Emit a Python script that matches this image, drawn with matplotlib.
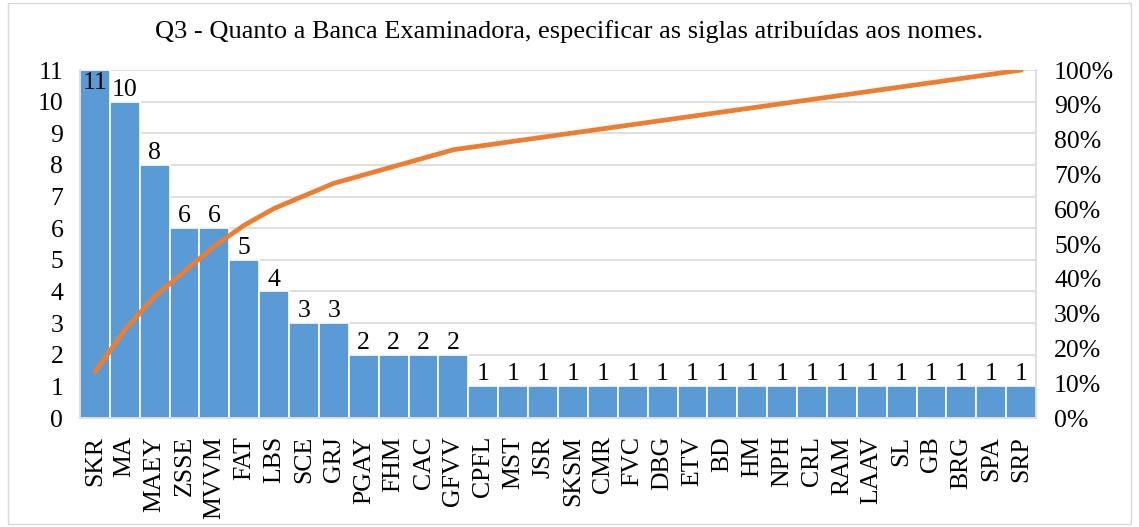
import matplotlib
matplotlib.use("Agg")
import matplotlib.pyplot as plt
import numpy as np

plt.rcParams['font.family'] = ['Liberation Serif', 'DejaVu Serif']

categories = ["SKR", "MA", "MAEY", "ZSSE", "MVVM", "FAT", "LBS", "SCE", "GRJ",
              "PGAY", "FHM", "CAC", "GFVV", "CPFL", "MST", "JSR", "SKSM", "CMR",
              "FVC", "DBG", "ETV", "BD", "HM", "NPH", "CRL", "RAM", "LAAV", "SL",
              "GB", "BRG", "SPA", "SRP"]
counts = [11, 10, 8, 6, 6, 5, 4, 3, 3, 2, 2, 2, 2,
          1, 1, 1, 1, 1, 1, 1, 1, 1, 1, 1, 1, 1, 1, 1, 1, 1, 1, 1]
title = "Q3 - Quanto a Banca Examinadora, especificar as siglas atribuídas aos nomes."

cum_pct = np.cumsum(counts) / np.sum(counts) * 100

fs = 18.5
fig = plt.figure(figsize=(11.39, 5.27), dpi=100)
ax = fig.add_axes([0.0702, 0.2068, 0.8394, 0.6602])
x = np.arange(len(categories))

ax.bar(x, counts, width=1.0, color="#5B9BD5", edgecolor="white", linewidth=1.2, zorder=2)
ax.set_xlim(-0.5, len(categories) - 0.5)
ax.set_ylim(0, 11)
ax.set_yticks(range(0, 12))
ax.grid(axis="y", color="#D9D9D9", linewidth=1.2, zorder=0)
ax.set_axisbelow(True)
ax.tick_params(axis="y", length=0, labelsize=fs, pad=12)
ax.set_xticks(x)
ax.set_xticklabels(categories, rotation=90)
ax.tick_params(axis="x", length=0, labelsize=fs, pad=13)
for s in ["left", "right", "bottom"]:
    ax.spines[s].set_color("#D9D9D9")
    ax.spines[s].set_linewidth(1.2)
ax.spines["top"].set_visible(False)

for xi, v in zip(x, counts):
    if v >= 11:
        ax.text(xi, v - 0.05, str(v), ha="center", va="top", fontsize=fs, zorder=4)
    else:
        ax.text(xi, v + 0.03, str(v), ha="center", va="bottom", fontsize=fs, zorder=4)

ax2 = ax.twinx()
ax2.plot(x, cum_pct, color="#ED7D31", linewidth=3.4, solid_capstyle="round", zorder=3)
ax2.set_ylim(0, 100)
ax2.set_yticks(range(0, 101, 10))
ax2.set_yticklabels([f"{p}%" for p in range(0, 101, 10)])
ax2.tick_params(length=0, labelsize=fs, pad=13)
for s in ax2.spines.values():
    s.set_visible(False)

fig.text(0.5, 0.94, title, ha="center", va="center", fontsize=19)

border = plt.Rectangle((0.007, 0.005), 0.986, 0.99, transform=fig.transFigure,
                       fill=False, edgecolor="#D9D9D9", linewidth=1)
fig.patches.append(border)

fig.savefig("out.png", dpi=100)
